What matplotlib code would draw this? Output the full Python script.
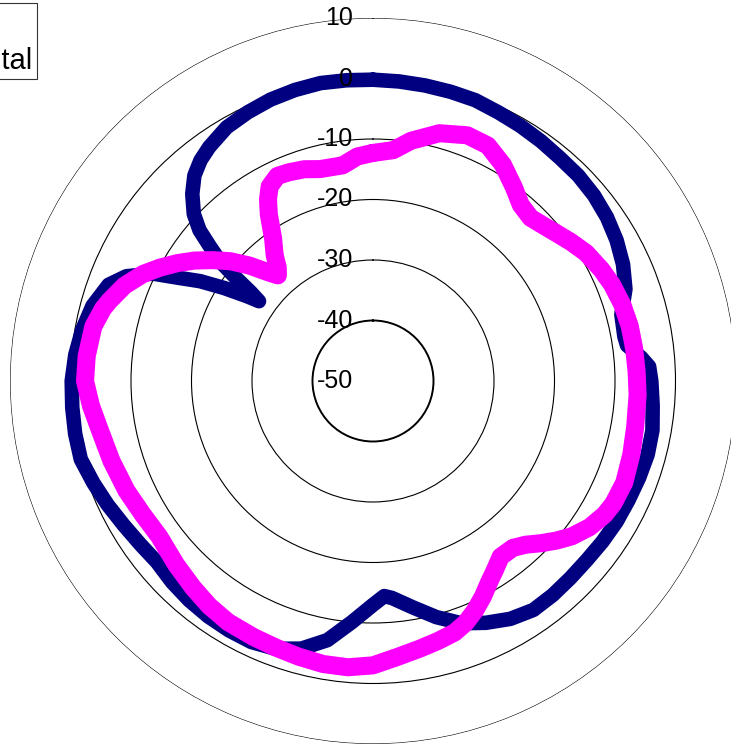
import numpy as np
import matplotlib
matplotlib.use("Agg")
import matplotlib.pyplot as plt
from matplotlib.lines import Line2D
from matplotlib.transforms import offset_copy

plt.rcParams['font.family'] = ['Liberation Sans', 'DejaVu Sans']

# radial ring labels (dB)
ring_values = [-50, -40, -30, -20, -10, 0, 10]

# series 1 (navy) - angle in degrees, level in dB
vert_angle = [0, 5, 10, 15, 20, 25, 30, 35, 40, 45, 50, 55, 60, 65, 70, 75, 80, 82, 85, 87,
              90, 95, 100, 105, 110, 115, 120, 125, 130, 135, 140, 145, 150, 155, 160, 165,
              170, 175, 177, 180, 185, 190, 195, 200, 205, 210, 215, 220, 225, 230, 235,
              240, 245, 250, 255, 260, 265, 270, 275, 280, 285, 290, 293, 296, 298, 300,
              302, 304, 305, 306, 307, 308, 309.5, 311, 313, 316, 319, 322, 325, 330, 335,
              340, 345, 350, 355]
vert_db = [-0.2, -0.3, -0.4, -0.5, -0.6, -1.0, -1.3, -1.6, -1.9, -2.0, -2.3, -2.8, -3.5, -4.4,
           -5.6, -7.5, -7.8, -7.6, -5.5, -4.3,
           -4.0, -3.6, -3.1, -3.0, -3.2, -3.4, -3.5, -3.7, -3.9, -3.9, -3.8, -3.8, -4.6, -5.9,
           -7.4, -9.6, -12.0, -14.0, -14.4, -13.0, -10.0, -6.5, -4.2, -2.9, -2.4, -2.4, -2.5,
           -2.7, -3.0, -3.4, -3.0, -2.4, -1.6, -0.8, 0.0, 0.0, -0.1, -0.2, -0.6, -1.2, -2.0,
           -3.5, -5.7, -9.5, -13.7, -17.0, -21.0, -25.0, -27.0, -25.0, -21.5, -18.0, -15.1,
           -12.0, -9.5, -7.0, -5.0, -3.7, -2.8, -1.6, -1.0, -0.5, -0.2, 0.0, -0.1]

# series 2 (magenta)
horiz_angle = [0, 5, 9, 15, 21, 26, 31, 36, 40, 44, 48, 51, 55, 59, 64, 68, 73, 78, 83, 88,
               93, 100, 106, 112, 117, 120, 124, 128, 131, 134, 137, 140, 144, 147, 150, 153,
               156, 159, 162, 166, 170, 175, 180, 185, 190, 195, 200, 205, 211, 216, 221,
               227, 234, 240, 246, 253, 260, 265, 270, 275, 281, 285, 287, 291, 295, 298,
               301, 304, 307, 310, 313, 316, 318, 320, 322, 325, 328, 330, 332, 335, 338,
               342, 346, 352, 356]
horiz_db = [-12.3, -11.7, -9.8, -7.6, -6.5, -6.7, -8.3, -10.4, -12.0, -12.5, -11.8, -11.1,
            -10.0, -8.9, -8.0, -7.4, -6.9, -6.6, -6.5, -6.4, -6.2, -6.0, -5.6, -5.2, -5.4,
            -5.8, -6.8, -8.3, -9.8, -11.4, -13.0, -14.0, -14.1, -12.9, -11.6, -10.0, -8.5,
            -7.2, -6.3, -5.7, -5.1, -4.2, -3.0, -2.5, -2.5, -2.8, -3.1, -3.3, -3.5, -4.0,
            -4.7, -5.5, -6.3, -6.0, -5.4, -4.8, -4.1, -3.2, -2.4, -2.5, -2.9, -3.8, -4.5,
            -6.0, -8.1, -10.1, -12.2, -14.4, -16.8, -19.2, -22.0, -25.0, -26.5, -25.5,
            -23.6, -21.2, -17.5, -15.3, -13.6, -12.6, -12.8, -13.2, -13.9, -14.0, -12.8]

names = ["Vertical", "Horizontal"]
colors = ["#000080", "#FF00FF"]

W, H = 731, 749
fig = plt.figure(figsize=(W / 100, H / 100), dpi=100)
ax = fig.add_axes([10 / W, 5 / H, 726 / W, 726 / H], projection='polar')
ax.set_theta_zero_location('N')
ax.set_theta_direction(-1)
ax.set_rlim(-50, 10)
ax.set_rticks(ring_values)
ax.set_yticklabels([])
ax.set_xticks([])
ax.spines['polar'].set_visible(False)
ax.grid(True, axis='y', color='black', linewidth=0.8)
ax.grid(False, axis='x')
for i, gl in enumerate(ax.yaxis.get_gridlines()):
    if ring_values[i] == -40:
        gl.set_linewidth(1.4)

# Draw the two patterns (closed loops)
series = [(vert_angle, vert_db, 10.5), (horiz_angle, horiz_db, 13)]
for (ang, db, lw), col in zip(series, colors):
    th = np.deg2rad(np.append(ang, ang[0]))
    r = np.append(db, db[0])
    ax.plot(th, r, color=col, linewidth=lw, solid_joinstyle='round',
            solid_capstyle='round', zorder=3)

# ring labels at the top, right aligned left of centre
trans = offset_copy(ax.transData, fig=fig, x=-20, y=0, units='dots')
for v in ring_values:
    ax.text(0, v, str(v), transform=trans, ha='right', va='center',
            fontsize=18, color='black', zorder=5)

# legend (mostly cut off by the left edge, as in the original)
handles = [Line2D([], [], color=colors[0], marker='D', markersize=8, linewidth=2),
           Line2D([], [], color=colors[1], marker='s', markersize=8, linewidth=2)]
leg = fig.legend(handles, names, loc='upper right', bbox_to_anchor=(37 / W, 1 - 3 / H),
                 fontsize=21, frameon=True, fancybox=False, edgecolor='black',
                 borderpad=0.15, borderaxespad=0, labelspacing=0.4, handlelength=1.5)
leg.get_frame().set_linewidth(0.8)

fig.savefig("out.png", dpi=100)
